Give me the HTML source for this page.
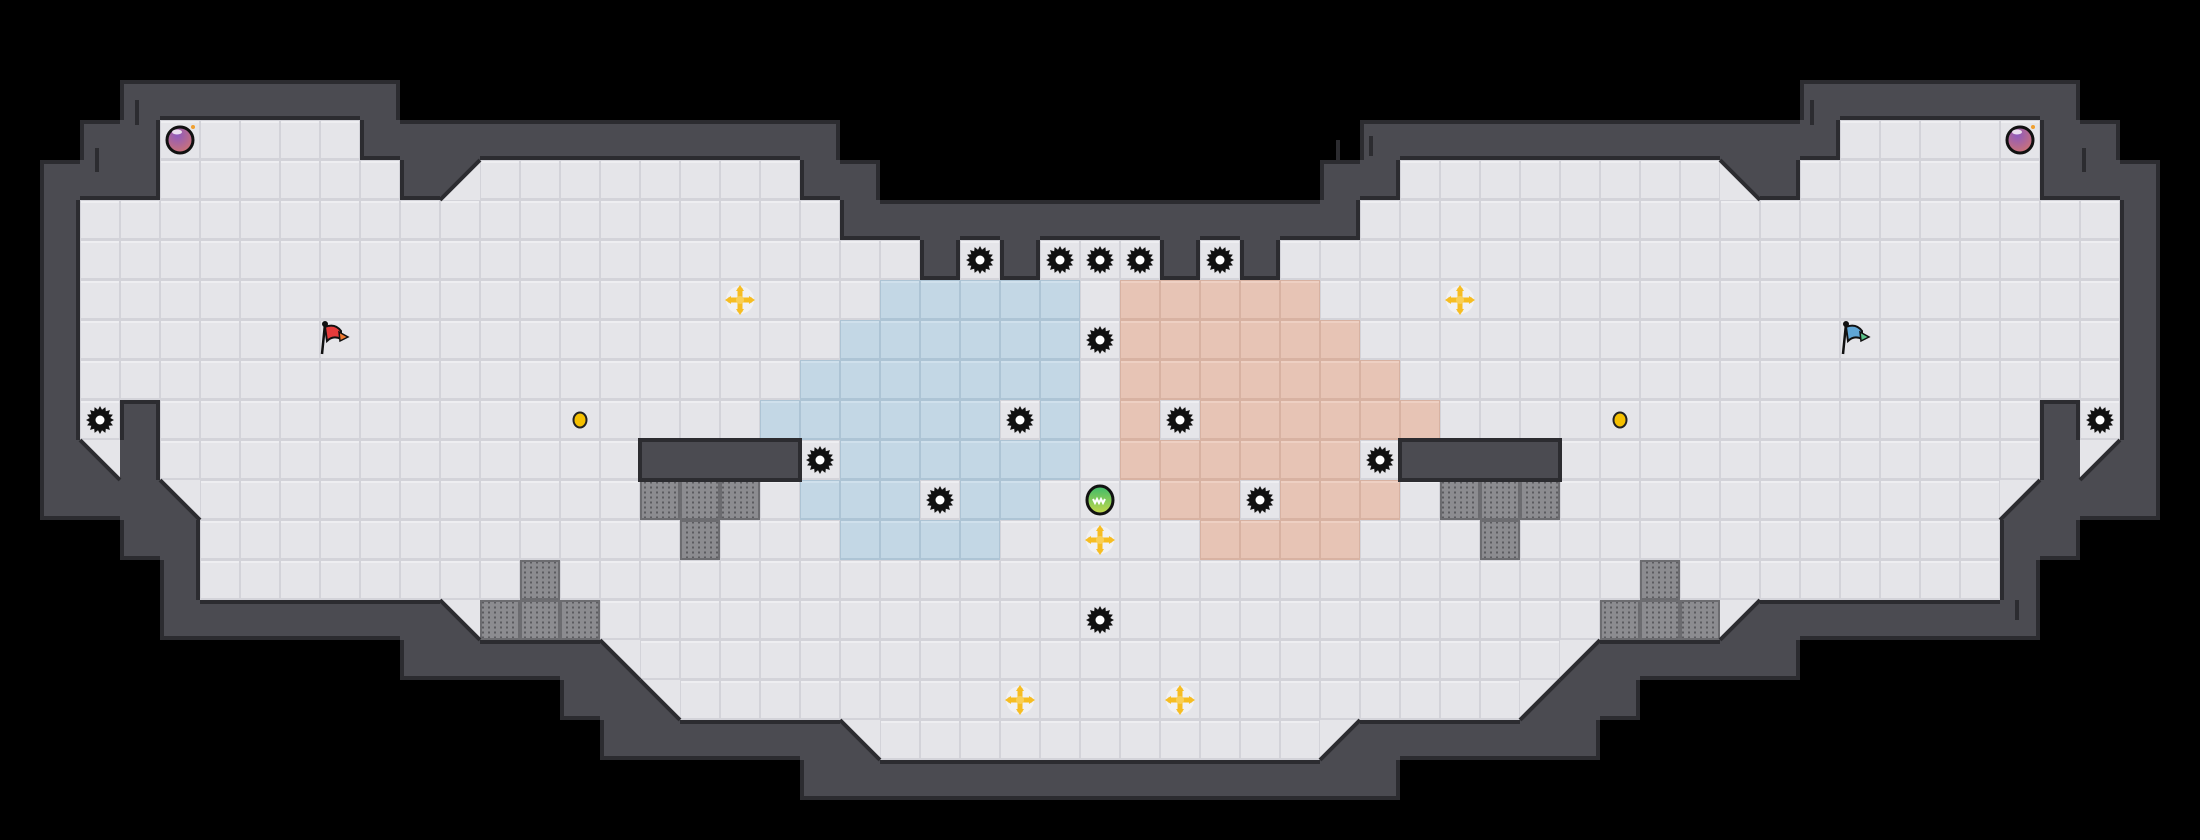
<!DOCTYPE html>
<html><head><meta charset="utf-8"><style>html,body{margin:0;padding:0;background:#000;width:2200px;height:840px;overflow:hidden}</style></head>
<body>
<svg id="s" width="2200" height="840" xmlns="http://www.w3.org/2000/svg">
<defs>
<pattern id="gp" width="6" height="5" patternUnits="userSpaceOnUse"><rect width="6" height="5" fill="#8c8c90"/><rect x="2" y="1.5" width="2" height="2" fill="#5c5c60"/></pattern>
<radialGradient id="pur" cx="0.4" cy="0.3" r="0.8"><stop offset="0" stop-color="#8e5bbf"/><stop offset="1" stop-color="#d4756c"/></radialGradient>
<linearGradient id="grn" x1="0" y1="0" x2="0" y2="1"><stop offset="0" stop-color="#3dbb6a"/><stop offset="1" stop-color="#c7d94a"/></linearGradient>
</defs>
</svg>
<script>
(function(){
var T=40,NS="http://www.w3.org/2000/svg",svg=document.getElementById('s');
function el(n,a){var e=document.createElementNS(NS,n);for(var k in a)e.setAttribute(k,a[k]);svg.appendChild(e);return e;}
var fl={};function K(r,c){return r+','+c;}
var L={3:[[4,8]],4:[[4,9],[12,19]],5:[[2,20]],6:[[2,22],[24,24],[26,27]],7:[[2,27]],8:[[2,27]],9:[[2,27]],
10:[[2,2],[4,27]],11:[[4,15],[20,27]],12:[[5,27]],13:[[5,27]],14:[[5,27]],15:[[12,27]],16:[[16,27]],17:[[17,27]],18:[[22,27]]};
var D=[[4,11,'lr'],[11,2,'ur'],[12,4,'ur'],[15,11,'ur'],[16,15,'ur'],[17,16,'ur'],[18,21,'ur']];
var mir={lr:'ll',ur:'ul'};
for(var r in L){L[r].forEach(function(g){for(var c=g[0];c<=g[1];c++){fl[K(r,c)]='f';fl[K(r,54-c)]='f';}});}
D.forEach(function(d){fl[K(d[0],d[1])]=d[2];fl[K(d[0],54-d[1])]=mir[d[2]];});
var wall={};
for(var r=0;r<21;r++)for(var c=0;c<55;c++){if(fl[K(r,c)])continue;
 var w=false;for(var dr=-1;dr<=1;dr++)for(var dc=-1;dc<=1;dc++)if(fl[K(r+dr,c+dc)])w=true;
 if(w)wall[K(r,c)]=1;}
wall[K(3,2)]=1;wall[K(3,52)]=1;
var WC="#4b4b51",WE="#2c2c30";
for(var key in wall){var p=key.split(',');el('rect',{x:p[1]*T,y:p[0]*T,width:T,height:T,fill:WC});}
var blue={7:[[22,26]],8:[[21,26]],9:[[20,26]],10:[[19,26]],11:[[21,26]],12:[[20,22],[24,25]],13:[[21,24]]};
var col={};
for(var r in blue)blue[r].forEach(function(g){for(var c=g[0];c<=g[1];c++){col[K(r,c)]='b';col[K(r,54-c)]='p';}});
var spikes=[[10,2],[10,52],[6,24],[6,26],[6,27],[6,28],[6,30],[8,27],[10,25],[10,29],[11,20],[11,34],[12,23],[12,31],[15,27]];
spikes.forEach(function(s){col[K(s[0],s[1])]='f';});
var grates=[[12,16],[12,17],[12,18],[13,17],[14,13],[15,12],[15,13],[15,14]];
var gr={};grates.forEach(function(g){gr[K(g[0],g[1])]=1;gr[K(g[0],54-g[1])]=1;});
var pal={f:['#d3d3d9','#e5e5e9','#eeeef1'],b:['#adc4d5','#c3d7e5','#cfe0ec'],p:['#d8b2a2','#e7c4b5','#eed0c3']};
var diagLines=[];
for(var key in fl){var p=key.split(','),r=+p[0],c=+p[1],x=c*T,y=r*T,t=fl[key];
 if(t!='f'){var x0=x,x1=x+T,y0=y,y1=y+T,pts;
  el('rect',{x:x,y:y,width:T,height:T,fill:WC});
  if(t=='ur')pts=[x0,y0,x1,y0,x1,y1];else if(t=='ul')pts=[x0,y0,x1,y0,x0,y1];else if(t=='lr')pts=[x1,y0,x1,y1,x0,y1];else pts=[x0,y0,x1,y1,x0,y1];
  el('polygon',{points:pts.join(' '),fill:'#e5e5e9'});
  var lp=(t=='ur'||t=='ll')?[x0,y0,x1,y1]:[x0,y1,x1,y0];
  diagLines.push(lp);
  continue;}
 if(gr[key]){el('rect',{x:x,y:y,width:T,height:T,fill:'#6c6c70'});el('rect',{x:x+2,y:y+2,width:T-4,height:T-4,fill:'url(#gp)'});continue;}
 var cc=pal[col[key]||'f'];
 el('rect',{x:x,y:y,width:T,height:T,fill:cc[0]});
 el('rect',{x:x+1,y:y+1,width:T-2,height:T-3,fill:cc[1]});
 el('rect',{x:x+1,y:y+1,width:T-2,height:2,fill:cc[2]});
}
for(var key in wall){var p=key.split(','),r=+p[0],c=+p[1],x=c*T,y=r*T;
 var nb=[[-1,0,x,y+2,x+T,y+2],[1,0,x,y+T-2,x+T,y+T-2],[0,-1,x+2,y,x+2,y+T],[0,1,x+T-2,y,x+T-2,y+T]];
 nb.forEach(function(n){var k2=K(r+n[0],c+n[1]);var f=fl[k2];if(!wall[k2]&&!(f&&f!='f')){el('line',{x1:n[2],y1:n[3],x2:n[4],y2:n[5],stroke:WE,'stroke-width':4});}});
}
diagLines.forEach(function(lp){el('line',{x1:lp[0],y1:lp[1],x2:lp[2],y2:lp[3],stroke:WE,'stroke-width':4});});
[[16,19],[35,38]].forEach(function(b){el('rect',{x:b[0]*T,y:11*T,width:(b[1]-b[0]+1)*T,height:T,fill:WC,stroke:WE,'stroke-width':4});});
[[137,100,137,125],[97,148,97,172],[1371,136,1371,156],[1812,100,1812,125],[2084,148,2084,172],[2017,600,2017,620],[1338,140,1338,160]].forEach(function(m){el('line',{x1:m[0],y1:m[1],x2:m[2],y2:m[3],stroke:WE,'stroke-width':4});});
function gear(cx,cy){var pts=[];for(var i=0;i<32;i++){var a=i*Math.PI/16,rr=(i%2?10.5:14);pts.push((cx+rr*Math.cos(a)).toFixed(1)+','+(cy+rr*Math.sin(a)).toFixed(1));}
 el('polygon',{points:pts.join(' '),fill:'#111'});el('circle',{cx:cx,cy:cy,r:4.5,fill:'#fff'});}
spikes.forEach(function(s){gear(s[1]*T+20,s[0]*T+20);});
function cross(cx,cy){el('circle',{cx:cx,cy:cy,r:14,fill:'#f1f1f3'});
 var g='#f6bd22';
 el('rect',{x:cx-2.5,y:cy-12,width:5,height:24,fill:g});el('rect',{x:cx-12,y:cy-2.5,width:24,height:5,fill:g});
 el('polygon',{points:[cx,cy-15,cx-4,cy-9,cx+4,cy-9].join(' '),fill:g});el('polygon',{points:[cx,cy+15,cx-4,cy+9,cx+4,cy+9].join(' '),fill:g});
 el('polygon',{points:[cx-15,cy,cx-9,cy-4,cx-9,cy+4].join(' '),fill:g});el('polygon',{points:[cx+15,cy,cx+9,cy-4,cx+9,cy+4].join(' '),fill:g});
 el('circle',{cx:cx,cy:cy,r:4,fill:'#f9cf55'});}
[[7,18],[7,36],[13,27],[17,25],[17,29]].forEach(function(p){cross(p[1]*T+20,p[0]*T+20);});
[[10,14],[10,40]].forEach(function(p){el('ellipse',{cx:p[1]*T+20,cy:p[0]*T+20,rx:6.5,ry:7.5,fill:'#f5c000',stroke:'#222','stroke-width':2});});
[[3,4],[3,50]].forEach(function(p){var cx=p[1]*T+20,cy=p[0]*T+20;el('circle',{cx:cx,cy:cy,r:13,fill:'url(#pur)',stroke:'#111','stroke-width':3});el('ellipse',{cx:cx-3,cy:cy-8,rx:5,ry:2.5,fill:'#fff',opacity:0.8});el('circle',{cx:cx+13,cy:cy-13,r:2,fill:'#f0a030'});});
var gx=27*T+20,gy=12*T+20;el('ellipse',{cx:gx,cy:gy,rx:13,ry:14,fill:'url(#grn)',stroke:'#111','stroke-width':3});
el('path',{d:'M'+(gx-7)+' '+(gy-1)+'l2 4l2-4l2 4l2-4l2 4l2-4',stroke:'#fff','stroke-width':2,fill:'none'});
function flag(x,y,c1,c2){el('line',{x1:x,y1:y+30,x2:x+3,y2:y,stroke:'#111','stroke-width':2.5});el('circle',{cx:x+3,cy:y,r:3,fill:'#111'});
 el('path',{d:'M'+(x+3)+' '+(y+3)+'q10 -4 16 4l0 8q-8 -4 -14 2z',fill:c1,stroke:'#111','stroke-width':2});
 el('path',{d:'M'+(x+17)+' '+(y+8)+'l9 5l-8 4z',fill:c2,stroke:'#111','stroke-width':1.5});}
flag(322,324,'#e53b3b','#f07a30');flag(1843,324,'#5fa6d6','#5cc38a');
})();
</script>
</body></html>
